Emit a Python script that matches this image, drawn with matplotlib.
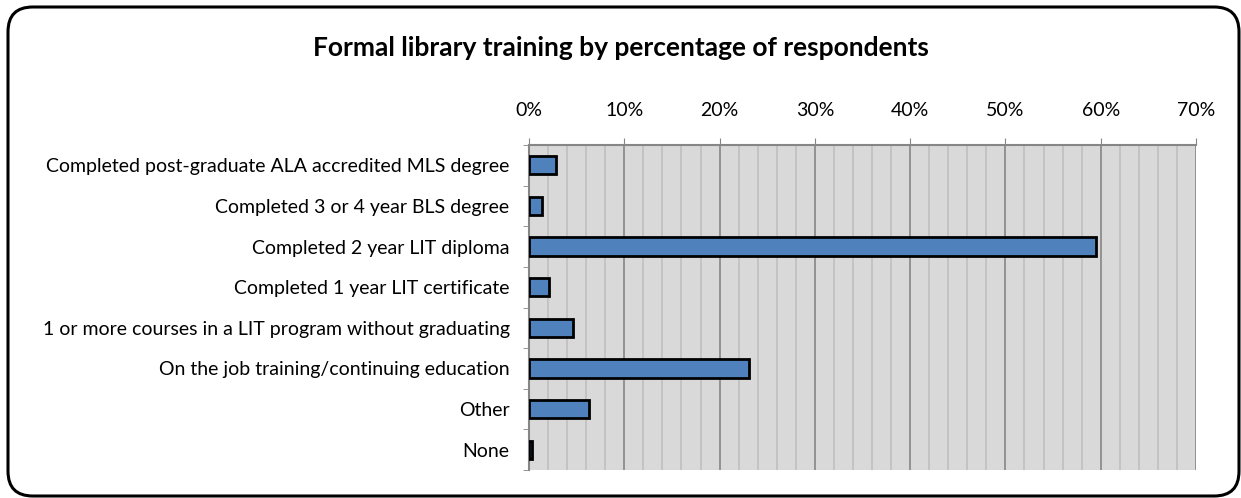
import matplotlib.pyplot as plt
import numpy as np
from matplotlib.patches import FancyBboxPatch
from matplotlib.ticker import MultipleLocator, PercentFormatter

plt.rcParams['font.family'] = ['Lato', 'DejaVu Sans']

# Data
categories = [
    'Completed post-graduate ALA accredited MLS degree',
    'Completed 3 or 4 year BLS degree',
    'Completed 2 year LIT diploma',
    'Completed 1 year LIT certificate',
    '1 or more courses in a LIT program without graduating',
    'On the job training/continuing education',
    'Other',
    'None',
]
percentages = [2.8, 1.4, 59.5, 2.1, 4.6, 23.1, 6.3, 0.3]

fig = plt.figure(figsize=(12.41, 4.98), dpi=100)
ax = fig.add_axes([529 / 1241, 28 / 498, 667 / 1241, 325 / 498])

y = np.arange(len(categories))
ax.barh(y, percentages, height=0.45, color='#4f81bd', edgecolor='black', linewidth=2, zorder=3)

ax.set_xlim(0, 70)
ax.set_ylim(len(categories) - 0.5, -0.5)
ax.set_facecolor('#d9d9d9')

ax.xaxis.set_major_locator(MultipleLocator(10))
ax.xaxis.set_minor_locator(MultipleLocator(2))
ax.xaxis.set_major_formatter(PercentFormatter(decimals=0))
ax.xaxis.tick_top()
ax.grid(axis='x', which='major', color='#868686', linewidth=1.2, zorder=1)
ax.grid(axis='x', which='minor', color='#bfbfbf', linewidth=1.2, zorder=1)
ax.tick_params(axis='x', which='major', direction='out', length=5, color='#868686',
               labelsize=14, pad=14)
ax.tick_params(axis='x', which='minor', length=0)

ax.set_yticks(y)
ax.set_yticklabels(categories)
ax.set_yticks(np.arange(-0.5, len(categories)), minor=True)
ax.tick_params(axis='y', which='major', length=0, labelsize=14, pad=14)
ax.tick_params(axis='y', which='minor', direction='out', length=4.5, color='#868686')

for side in ['bottom', 'right']:
    ax.spines[side].set_visible(False)
ax.spines['left'].set_color('#868686')
ax.spines['left'].set_linewidth(1.5)
ax.spines['top'].set_color('#868686')
ax.spines['top'].set_linewidth(1.5)

fig.text(0.5, 1 - 48 / 498, 'Formal library training by percentage of respondents',
         ha='center', va='center', fontsize=19, fontweight='bold')

# rounded outer frame, bottom/right edges run to the image border
border = FancyBboxPatch((8 / 1241, 2 / 498), 1231 / 1241, 489 / 498,
                        boxstyle='round,pad=0,rounding_size=0.02',
                        transform=fig.transFigure, fill=False,
                        edgecolor='black', linewidth=2.2, mutation_aspect=1241 / 498)
fig.patches.append(border)

fig.savefig('out.png', dpi=100)
